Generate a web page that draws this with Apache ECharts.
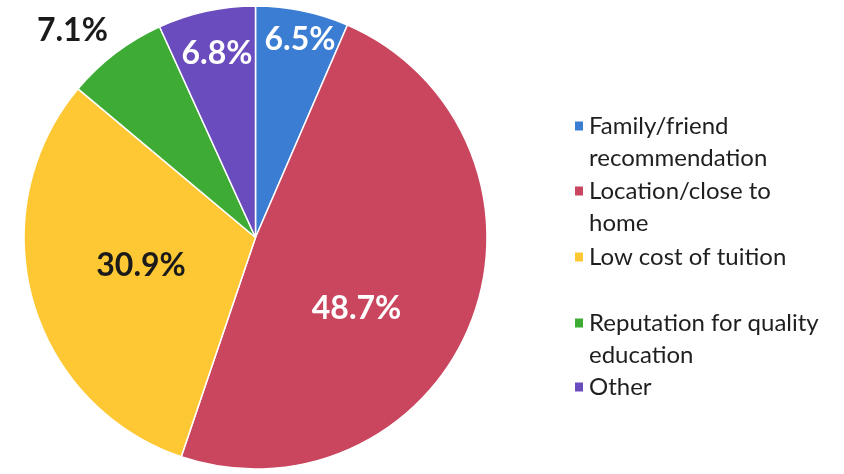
<!DOCTYPE html>
<html>
<head>
<meta charset="utf-8">
<script src="https://cdn.jsdelivr.net/npm/echarts@6/dist/echarts.min.js"></script>
<style>
  html, body { margin: 0; padding: 0; background: #ffffff; }
  #chart { width: 844px; height: 474px; }
</style>
</head>
<body>
<div id="chart"></div>
<script>
// Reasons for choosing the college (share of respondents, %)
const categories = [
  'Family/friend recommendation',
  'Location/close to home',
  'Low cost of tuition',
  'Reputation for quality education',
  'Other'
];
const shares = [6.5, 48.7, 30.9, 7.1, 6.8];
// Legend text as wrapped lines
const legendLines = [
  ['Family/friend', 'recommendation'],
  ['Location/close to', 'home'],
  ['Low cost of tuition'],
  ['Reputation for quality', 'education'],
  ['Other']
];

const colors = ['#3b7dd3', '#c9465e', '#fdc834', '#3dab34', '#6a4cbf'];
const labelColors = ['#ffffff', '#ffffff', '#1a1a1a', '#1a1a1a', '#ffffff'];
// Nudges from the mid-radius point of each slice
const labelNudges = [[21, -84], [-7, 30], [-3, -3], [-113, -115], [-14, -71]];

const CX = 255.5, CY = 237.5, R = 231.5;

// Mid angle (clockwise from 12 o'clock) of every slice
const total = shares.reduce((a, b) => a + b, 0);
const midAngles = [];
shares.reduce((acc, v) => {
  midAngles.push((acc + v / 2) / total * 2 * Math.PI);
  return acc + v;
}, 0);

// Vertical centre of each legend icon / first text line
const legendIconCenters = [125, 190, 257, 322, 387];
const LINE_H = 32;
const ICON_W = 10, ICON_H = 11;

function legendIcon(lines) {
  if (lines === 1) return 'rect';
  // Tall symbol box with the square drawn at the first text line
  const h = lines * LINE_H;
  const top = LINE_H / 2 - ICON_H / 2;
  return 'path://M0,0h0.01v0.01h-0.01z M0,' + top + 'h' + ICON_W + 'v' + ICON_H + 'h-' + ICON_W + 'z M0,' + (h - 0.01) + 'h0.01v0.01h-0.01z';
}

const chart = echarts.init(document.getElementById('chart'), null, { renderer: 'canvas' });

const legends = categories.map((name, i) => {
  const n = legendLines[i].length;
  return {
    orient: 'vertical',
    left: 573,
    top: legendIconCenters[i] - LINE_H / 2,
    padding: 0,
    itemWidth: ICON_W,
    itemHeight: n === 1 ? ICON_H : n * LINE_H,
    icon: legendIcon(n),
    selectedMode: false,
    data: [{ name: name, icon: legendIcon(n), itemStyle: { color: colors[i] } }],
    formatter: () => legendLines[i].join('\n'),
    textStyle: {
      fontFamily: 'Lato',
      fontSize: 24,
      color: '#1f1f1f',
      lineHeight: LINE_H
    }
  };
});

chart.setOption({
  animation: false,
  legend: legends,
  series: [{
    type: 'pie',
    center: [CX, CY],
    radius: [0, R],
    startAngle: 90,
    clockwise: true,
    avoidLabelOverlap: false,
    minShowLabelAngle: 0,
    label: {
      show: true,
      position: 'inside',
      fontFamily: 'Lato',
      fontWeight: 'bold',
      fontSize: 32,
      formatter: p => shares[p.dataIndex].toFixed(1) + '%'
    },
    labelLine: { show: false },
    labelLayout: p => {
      const i = p.dataIndex;
      const a = midAngles[i];
      return {
        x: CX + R / 2 * Math.sin(a) + labelNudges[i][0],
        y: CY - R / 2 * Math.cos(a) + labelNudges[i][1],
        align: 'center',
        verticalAlign: 'middle',
        hideOverlap: false
      };
    },
    itemStyle: { borderColor: '#ffffff', borderWidth: 1.5 },
    emphasis: { disabled: true },
    data: categories.map((name, i) => ({
      name: name,
      value: shares[i],
      itemStyle: { color: colors[i] },
      label: { color: labelColors[i] }
    }))
  }]
});
</script>
</body>
</html>
